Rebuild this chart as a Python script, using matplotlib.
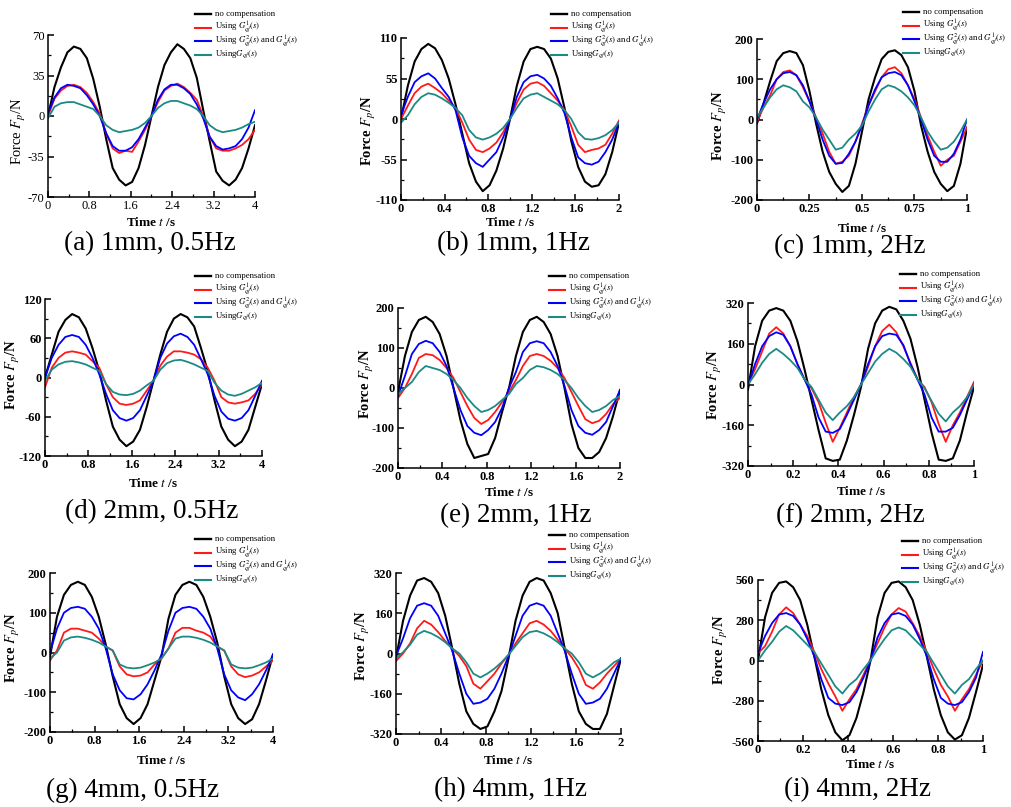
import matplotlib.pyplot as plt
import numpy as np
from matplotlib.lines import Line2D
from matplotlib.ticker import MultipleLocator, AutoMinorLocator, FormatStrFormatter

plt.rcParams['font.family'] = ['Liberation Serif', 'DejaVu Serif']
plt.rcParams['mathtext.fontset'] = 'stix'

W, H = 1012, 807

# captions, spans (s) and y limits of the nine panels
captions = ["(a) 1mm, 0.5Hz", "(b) 1mm, 1Hz", "(c) 1mm, 2Hz",
            "(d) 2mm, 0.5Hz", "(e) 2mm, 1Hz", "(f) 2mm, 2Hz",
            "(g) 4mm, 0.5Hz", "(h) 4mm, 1Hz", "(i) 4mm, 2Hz"]
spans = [4, 2, 1, 4, 2, 1, 4, 2, 1]
x_steps = [0.8, 0.4, 0.25, 0.8, 0.4, 0.2, 0.8, 0.4, 0.2]
y_limits = [70, 110, 200, 120, 200, 320, 200, 320, 560]

legend_labels = ["no compensation", r"Using $G_{qf}^{1}(s)$",
                 r"Using $G_{qf}^{2}(s)$ and $G_{qf}^{1}(s)$", r"Using$G_{qf}(s)$"]

# force values read at 33 equally spaced times over each span
nocomp_a = [0, 25, 42, 55, 60, 58, 50, 32, 8, -20, -45, -55, -60, -57, -45, -25, 0, 25, 44, 55, 62, 58, 50, 33, 5, -22, -48, -56, -60, -55, -45, -28, -8]
g1_a = [0, 15, 22, 26, 27, 25, 20, 12, 2, -15, -28, -32, -30, -31, -22, -12, 0, 12, 22, 26, 28, 25, 20, 14, 0, -18, -28, -30, -30, -28, -25, -20, -12]
g21_a = [2, 16, 24, 27, 26, 24, 18, 10, 0, -15, -26, -30, -30, -27, -20, -10, 0, 14, 23, 27, 27, 24, 19, 10, -2, -18, -26, -29, -28, -26, -20, -10, 5]
gq_a = [-2, 8, 11, 12, 12, 10, 8, 6, 0, -8, -12, -14, -13, -12, -10, -6, 0, 7, 11, 13, 13, 11, 9, 6, 0, -8, -12, -14, -13, -12, -10, -7, -5]

nocomp_b = [0, 45, 78, 95, 102, 96, 80, 55, 20, -20, -60, -85, -98, -90, -70, -40, 0, 45, 78, 95, 98, 95, 82, 55, 15, -30, -65, -85, -92, -90, -75, -45, -5]
g1_b = [0, 18, 35, 44, 48, 42, 35, 25, 15, -5, -28, -42, -45, -40, -32, -18, 0, 22, 40, 48, 50, 45, 35, 25, 12, -10, -35, -45, -42, -40, -35, -20, -2]
g21_b = [5, 30, 50, 58, 62, 55, 42, 30, 12, -25, -50, -60, -65, -55, -45, -25, 0, 30, 50, 58, 60, 55, 45, 28, 8, -25, -52, -60, -62, -58, -45, -28, -5]
gq_b = [-5, 5, 20, 30, 35, 33, 28, 22, 15, 5, -15, -25, -28, -25, -20, -12, 0, 15, 28, 33, 35, 30, 25, 20, 12, 0, -18, -27, -28, -26, -22, -15, -5]

nocomp_c = [-10, 40, 95, 145, 165, 170, 165, 135, 70, -10, -80, -130, -160, -180, -165, -110, -30, 50, 105, 150, 168, 172, 160, 130, 70, -15, -80, -130, -160, -178, -165, -110, -20]
g1_c = [-5, 30, 60, 100, 118, 122, 110, 80, 45, 5, -35, -80, -110, -105, -90, -55, -10, 35, 70, 105, 125, 130, 115, 85, 50, 5, -40, -80, -115, -100, -90, -55, -20]
g21_c = [0, 40, 75, 100, 115, 118, 110, 85, 45, 0, -50, -90, -110, -108, -85, -55, -15, 35, 75, 105, 115, 118, 110, 85, 45, 0, -50, -90, -105, -105, -85, -50, 0]
gq_c = [5, 30, 55, 75, 85, 80, 70, 45, 30, 5, -25, -50, -75, -70, -50, -35, -15, 20, 50, 75, 85, 80, 70, 55, 35, 5, -30, -55, -75, -70, -55, -30, 0]

nocomp_d = [0, 35, 70, 88, 97, 92, 75, 45, 10, -35, -75, -95, -105, -98, -80, -45, -5, 35, 70, 90, 97, 92, 78, 45, 10, -35, -75, -95, -105, -98, -80, -45, -10]
g1_d = [-15, 15, 30, 38, 40, 38, 35, 25, 15, -10, -30, -40, -42, -40, -35, -20, -5, 18, 32, 40, 40, 38, 35, 28, 15, -5, -30, -38, -40, -38, -35, -25, -10]
g21_d = [0, 30, 50, 62, 65, 62, 50, 30, 5, -25, -50, -62, -66, -62, -50, -28, -5, 30, 52, 63, 67, 62, 50, 28, 5, -28, -52, -63, -66, -62, -50, -28, -5]
gq_d = [-5, 12, 20, 24, 25, 23, 20, 15, 10, -10, -22, -26, -27, -25, -20, -12, -5, 12, 22, 26, 27, 24, 20, 15, 10, -8, -20, -26, -28, -25, -20, -15, -8]

nocomp_e = [-10, 80, 140, 170, 178, 165, 135, 80, 0, -80, -140, -175, -170, -165, -125, -60, 0, 80, 140, 170, 178, 165, 135, 80, 0, -90, -150, -175, -175, -160, -125, -70, -5]
g1_e = [-25, 0, 35, 75, 85, 82, 70, 50, 25, -10, -45, -75, -90, -80, -60, -35, -10, 20, 55, 80, 85, 80, 68, 50, 25, -10, -45, -78, -88, -82, -65, -40, -25]
g21_e = [-20, 30, 85, 110, 118, 112, 90, 55, 0, -55, -95, -112, -118, -105, -85, -50, 0, 40, 90, 112, 117, 112, 90, 55, 5, -55, -95, -112, -117, -105, -85, -45, -5]
gq_e = [-15, 0, 15, 40, 55, 50, 45, 35, 20, 0, -25, -45, -60, -55, -45, -30, -15, 10, 25, 45, 55, 52, 45, 35, 20, 0, -25, -45, -60, -55, -45, -30, -20]

nocomp_f = [-20, 150, 250, 290, 300, 290, 250, 170, 60, -60, -180, -290, -300, -295, -220, -120, -10, 140, 240, 290, 305, 295, 250, 180, 70, -60, -190, -295, -300, -290, -220, -110, -10]
g1_f = [0, 60, 130, 200, 225, 200, 150, 80, 20, -15, -70, -150, -225, -170, -110, -50, 0, 70, 150, 210, 235, 205, 150, 85, 20, -10, -70, -155, -225, -160, -110, -50, 10]
g21_f = [-5, 80, 150, 190, 205, 195, 150, 80, 20, -40, -130, -185, -190, -175, -120, -60, 0, 80, 150, 190, 200, 195, 155, 80, 20, -40, -130, -185, -185, -170, -120, -60, 0]
gq_f = [0, 40, 85, 120, 140, 120, 95, 65, 20, -10, -60, -110, -140, -110, -85, -50, 0, 45, 90, 120, 140, 125, 100, 70, 20, -15, -65, -115, -145, -110, -85, -50, 0]

nocomp_g = [-10, 90, 145, 170, 178, 170, 140, 90, 20, -60, -130, -165, -180, -165, -130, -70, -10, 85, 145, 170, 178, 170, 140, 90, 25, -60, -130, -165, -180, -168, -130, -70, -5]
g1_g = [-20, 5, 50, 60, 60, 55, 50, 35, 15, 5, -35, -55, -60, -58, -50, -30, -15, 10, 50, 62, 62, 55, 50, 40, 15, 5, -35, -55, -62, -58, -50, -35, -20]
g21_g = [0, 60, 100, 112, 115, 110, 90, 60, 10, -55, -95, -115, -118, -105, -80, -45, -5, 55, 100, 112, 115, 110, 90, 60, 10, -55, -95, -113, -120, -105, -80, -45, -5]
gq_g = [-15, 0, 30, 38, 40, 37, 32, 25, 15, 5, -30, -38, -40, -38, -32, -25, -15, 10, 35, 40, 40, 37, 32, 25, 15, 5, -30, -38, -40, -38, -32, -25, -15]

nocomp_h = [-20, 130, 230, 290, 300, 285, 240, 150, 20, -120, -230, -280, -300, -290, -230, -150, -20, 130, 230, 285, 300, 290, 240, 160, 20, -120, -230, -280, -300, -300, -240, -130, -20]
g1_h = [-30, 0, 40, 100, 130, 115, 85, 50, 20, -10, -50, -120, -140, -110, -80, -40, -5, 40, 80, 120, 130, 115, 90, 55, 20, -15, -60, -125, -140, -115, -80, -50, -20]
g21_h = [-10, 60, 140, 190, 200, 190, 150, 80, 10, -80, -160, -200, -195, -180, -140, -80, -10, 70, 150, 190, 200, 190, 150, 80, 10, -80, -160, -200, -195, -180, -140, -80, -20]
gq_h = [-20, 5, 35, 75, 90, 80, 65, 45, 20, 0, -35, -80, -95, -80, -60, -35, -5, 30, 65, 85, 90, 80, 65, 45, 20, 0, -35, -80, -95, -80, -60, -35, -20]

nocomp_i = [0, 300, 470, 540, 550, 510, 420, 250, 30, -200, -380, -500, -555, -520, -400, -220, 0, 300, 470, 540, 550, 510, 420, 250, 30, -200, -380, -500, -550, -520, -400, -220, -30]
g1_i = [50, 100, 200, 320, 370, 330, 250, 170, 60, -60, -160, -250, -350, -270, -200, -100, 10, 120, 230, 320, 365, 340, 260, 170, 60, -60, -170, -250, -350, -270, -200, -100, 0]
g21_i = [50, 170, 260, 320, 330, 310, 250, 150, 30, -130, -260, -300, -310, -290, -220, -120, 0, 160, 260, 320, 330, 310, 250, 150, 30, -130, -260, -300, -310, -290, -220, -120, 60]
gq_i = [0, 70, 130, 200, 240, 210, 160, 110, 60, -20, -100, -180, -230, -170, -130, -60, 0, 80, 150, 210, 230, 210, 160, 110, 60, -20, -100, -180, -230, -170, -130, -60, 0]

series = [
    (nocomp_a, g1_a, g21_a, gq_a), (nocomp_b, g1_b, g21_b, gq_b), (nocomp_c, g1_c, g21_c, gq_c),
    (nocomp_d, g1_d, g21_d, gq_d), (nocomp_e, g1_e, g21_e, gq_e), (nocomp_f, g1_f, g21_f, gq_f),
    (nocomp_g, g1_g, g21_g, gq_g), (nocomp_h, g1_h, g21_h, gq_h), (nocomp_i, g1_i, g21_i, gq_i),
]

# axes boxes in pixels: left, top, right, bottom
boxes = [(48, 35, 255, 197), (401, 38, 619, 200), (757, 39, 967, 200),
         (45, 299, 262, 456), (398, 308, 620, 468), (748, 303, 974, 466),
         (50, 573, 273, 732), (396, 573, 621, 734), (758, 580, 983, 741)]
# legend: handle start x, first row centre y (pixels)
legend_pos = [(195, 14), (551, 14), (903, 12), (195, 276), (549, 276), (900, 274),
              (195, 539), (549, 535), (902, 541)]
caption_pos = [(150, 244), (514, 244), (850, 247), (152, 512), (516, 516), (850, 516),
               (133, 790), (511, 790), (858, 790)]
xlabel_y = [222, 223, 228, 483, 493, 492, 760, 761, 764]
ylabel_pos = [(19, 131), (369, 131), (720, 126), (13, 375), (367, 384), (715, 385),
              (13, 648), (363, 646), (721, 650)]

colors = ["black", "#ff1a1a", "#0000ff", "#1b8a86"]
widths = [1.5, 1.3, 1.3, 1.3]

fig = plt.figure(figsize=(W / 100, H / 100), dpi=100)

for i in range(9):
    l, t, r, b = boxes[i]
    ax = fig.add_axes([l / W, 1 - b / H, (r - l) / W, (b - t) / H])
    time = np.linspace(0, spans[i], len(series[i][0]))
    for vals, c, lw in zip(series[i], colors, widths):
        ax.plot(time, vals, color=c, lw=lw)
    ax.set_xlim(0, spans[i])
    ax.set_ylim(-y_limits[i], y_limits[i])
    ax.xaxis.set_major_locator(MultipleLocator(x_steps[i]))
    ax.yaxis.set_major_locator(MultipleLocator(y_limits[i] / 2))
    ax.xaxis.set_minor_locator(AutoMinorLocator(2))
    ax.yaxis.set_minor_locator(AutoMinorLocator(2))
    ax.xaxis.set_major_formatter(FormatStrFormatter('%g'))
    ax.yaxis.set_major_formatter(FormatStrFormatter('%g'))
    for s in ['top', 'right']:
        ax.spines[s].set_visible(False)
    for s in ['left', 'bottom']:
        ax.spines[s].set_linewidth(1.1)
    ax.tick_params(which='major', direction='in', length=4, width=1.1, pad=2.5, labelsize=9)
    ax.tick_params(which='minor', direction='in', length=2, width=0.9)
    weight = 'normal' if i == 0 else 'bold'
    for lbl in ax.get_xticklabels() + ax.get_yticklabels():
        lbl.set_fontweight(weight)

    ax.set_xlabel(r"Time $t$ /s", fontsize=9.5, fontweight='bold', va='center')
    ax.xaxis.set_label_coords((l + r) / 2 / W, 1 - xlabel_y[i] / H, transform=fig.transFigure)
    ax.set_ylabel(r"Force $F_p$/N", fontsize=10.5, fontweight=weight, va='center')
    yx, yy = ylabel_pos[i]
    ax.yaxis.set_label_coords(yx / W, 1 - yy / H, transform=fig.transFigure)

    # legend rows, outside the axes at the upper right
    lx, ly = legend_pos[i]
    for k, (c, lw, lab) in enumerate(zip(colors, widths, legend_labels)):
        yk = 1 - (ly + k * 13.5) / H
        fig.add_artist(Line2D([lx / W, (lx + 16) / W], [yk, yk], color=c, lw=lw + 0.2,
                              transform=fig.transFigure))
        fig.text((lx + 20) / W, yk, lab, fontsize=6.3, ha='left', va='center')

    cx, cy = caption_pos[i]
    fig.text(cx / W, 1 - cy / H, captions[i], ha='center', va='center', fontsize=19.5)

plt.savefig("out.png", dpi=100)
